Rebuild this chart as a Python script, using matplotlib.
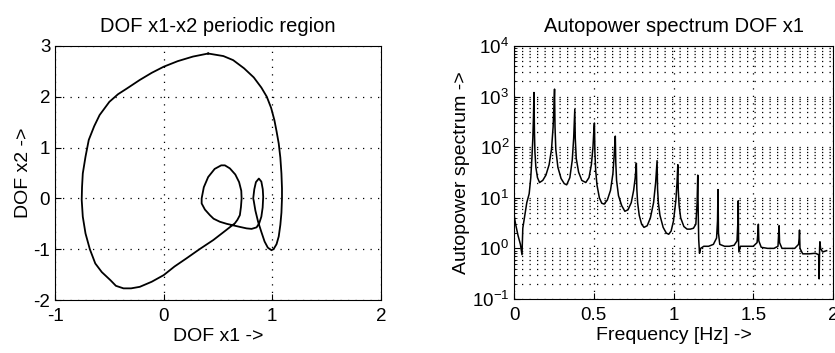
import numpy as np
import matplotlib
matplotlib.use('Agg')
import matplotlib.pyplot as plt
import matplotlib.ticker as mticker

plt.rcParams['font.family'] = ['Liberation Sans', 'DejaVu Sans']
plt.rcParams['mathtext.fontset'] = 'custom'
plt.rcParams['mathtext.rm'] = 'Liberation Sans'
plt.rcParams['mathtext.it'] = 'Liberation Sans:italic'

# phase plot DOF x1 vs DOF x2
dof_x1 = [0.41, 0.55, 0.64, 0.74, 0.83, 0.90, 0.95, 0.99, 1.02, 1.04, 1.06, 1.075,
          1.085, 1.09, 1.09, 1.085, 1.075, 1.06, 1.04, 1.015, 0.994, 0.96, 0.93,
          0.90, 0.87, 0.845, 0.83, 0.825, 0.835, 0.85, 0.877, 0.90, 0.913, 0.917,
          0.912, 0.90, 0.88, 0.856, 0.81, 0.764, 0.70, 0.64, 0.58, 0.518, 0.46,
          0.426, 0.38, 0.35, 0.35, 0.37, 0.41, 0.47, 0.53, 0.564, 0.61, 0.66,
          0.695, 0.715, 0.718, 0.712, 0.702, 0.68, 0.656, 0.56, 0.457, 0.33, 0.21,
          0.10, 0.0, -0.11, -0.22, -0.30, -0.37, -0.44, -0.49, -0.57, -0.63, -0.68,
          -0.72, -0.745, -0.755, -0.752, -0.745, -0.72, -0.69, -0.64, -0.59, -0.50,
          -0.42, -0.34, -0.22, -0.11, 0.0, 0.13, 0.27, 0.41]
dof_x2 = [2.85, 2.80, 2.72, 2.56, 2.38, 2.18, 2.00, 1.78, 1.54, 1.32, 1.08, 0.80,
          0.49, 0.20, 0.0, -0.28, -0.52, -0.75, -0.90, -0.99, -1.02, -0.97, -0.85,
          -0.66, -0.46, -0.24, -0.05, 0.0, 0.18, 0.32, 0.39, 0.33, 0.18, 0.03,
          -0.18, -0.36, -0.49, -0.57, -0.60, -0.59, -0.56, -0.53, -0.50, -0.46,
          -0.40, -0.33, -0.22, -0.10, 0.0, 0.22, 0.42, 0.58, 0.65, 0.65, 0.59, 0.47,
          0.32, 0.15, 0.0, -0.17, -0.33, -0.42, -0.49, -0.65, -0.82, -1.00, -1.18,
          -1.34, -1.51, -1.64, -1.74, -1.77, -1.77, -1.72, -1.61, -1.45, -1.28,
          -1.00, -0.69, -0.36, -0.03, 0.22, 0.49, 0.82, 1.15, 1.42, 1.64, 1.90,
          2.05, 2.16, 2.33, 2.47, 2.59, 2.70, 2.79, 2.85]

# autopower spectrum of DOF x1
freq = [0.0, 0.01, 0.025, 0.04, 0.05, 0.055, 0.065, 0.08, 0.095, 0.105, 0.112, 0.118,
        0.122, 0.125,
        0.128, 0.131, 0.137, 0.147, 0.16, 0.18, 0.2, 0.22, 0.235, 0.245, 0.25, 0.254,
        0.257, 0.262, 0.275, 0.295, 0.315, 0.33, 0.35, 0.365, 0.374, 0.378, 0.381,
        0.384, 0.39, 0.405, 0.425, 0.45, 0.47, 0.485, 0.495, 0.5, 0.504,
        0.507, 0.512, 0.52, 0.535, 0.55, 0.565, 0.585, 0.605, 0.62, 0.628, 0.632, 0.635,
        0.638, 0.643, 0.655, 0.675, 0.695, 0.715, 0.735, 0.75, 0.76, 0.767,
        0.77, 0.775, 0.785, 0.8, 0.815, 0.835, 0.855, 0.875, 0.888, 0.897,
        0.9, 0.905, 0.915, 0.935, 0.955, 0.97, 0.985, 1.0, 1.015, 1.022, 1.027,
        1.03, 1.035, 1.045, 1.065, 1.085, 1.105, 1.125, 1.14, 1.148, 1.152,
        1.155, 1.158, 1.163, 1.17, 1.19, 1.22, 1.25, 1.27, 1.276, 1.279,
        1.282, 1.29, 1.32, 1.35, 1.38, 1.398, 1.403, 1.406, 1.408, 1.41, 1.42,
        1.46, 1.50, 1.524, 1.529, 1.532, 1.535, 1.55, 1.59, 1.63, 1.655, 1.659,
        1.662, 1.665, 1.68, 1.72, 1.76, 1.784, 1.788, 1.790, 1.793, 1.81, 1.85,
        1.89, 1.910, 1.913, 1.916, 1.918, 1.922, 1.935, 1.96]
power = [4.5, 3.0, 1.8, 1.2, 0.75, 2.5, 4.0, 8.0, 12.0, 25.0, 60.0, 150.0,
         400.0, 1200.0,
         200.0, 80.0, 40.0, 25.0, 20.0, 22.0, 28.0, 45.0, 90.0, 250.0, 600.0, 1400.0,
         250.0, 90.0, 40.0, 24.0, 19.0, 18.0, 25.0, 55.0, 150.0, 300.0, 560.0,
         150.0, 60.0, 32.0, 22.0, 20.0, 25.0, 45.0, 100.0, 200.0, 300.0,
         80.0, 35.0, 18.0, 10.0, 7.8, 7.5, 9.0, 14.0, 30.0, 70.0, 120.0, 165.0,
         50.0, 22.0, 11.0, 7.0, 5.4, 5.8, 8.0, 14.0, 25.0, 48.0,
         15.0, 8.0, 4.5, 3.0, 2.6, 2.8, 4.0, 8.0, 20.0, 54.0,
         15.0, 8.0, 4.5, 2.6, 2.0, 1.9, 2.2, 3.5, 9.0, 20.0, 45.0,
         14.0, 7.0, 4.0, 2.7, 2.4, 2.4, 2.5, 3.0, 8.0, 28.0,
         5.0, 1.5, 0.8, 1.0, 1.1, 1.1, 1.2, 1.6, 3.5, 14.5,
         2.0, 1.2, 1.1, 1.1, 1.15, 1.4, 3.0, 8.7, 1.3, 0.85, 1.1,
         1.1, 1.1, 1.3, 2.0, 3.0, 1.4, 1.05, 1.0, 1.0, 1.1, 1.8,
         2.8, 1.3, 1.0, 1.0, 1.0, 1.2, 1.6, 2.3, 1.0, 0.78, 0.78,
         0.8, 0.75, 0.25, 1.0, 1.35, 1.0, 0.85, 0.9]

fig = plt.figure(figsize=(8.35, 3.53), dpi=100)
grid_style = dict(color='black', linestyle=(0, (1, 5)), linewidth=0.9)

# left: phase plot
ax1 = fig.add_axes([0.066, 0.150, 0.390, 0.720])
ax1.plot(dof_x1, dof_x2, color='black', linewidth=1.3)
ax1.set_xlim(-1, 2)
ax1.set_ylim(-2, 3)
ax1.set_xticks([-1, 0, 1, 2])
ax1.set_yticks([-2, -1, 0, 1, 2, 3])
ax1.xaxis.set_major_formatter(mticker.FuncFormatter(lambda v, p: '%g' % v))
ax1.yaxis.set_major_formatter(mticker.FuncFormatter(lambda v, p: '%g' % v))
ax1.grid(True, **grid_style)
ax1.tick_params(direction='in', labelsize=13.5, length=4)
ax1.tick_params(axis='x', pad=6)
ax1.set_title('DOF x1-x2 periodic region', fontsize=14.5, pad=10)
ax1.set_xlabel('DOF x1 ->', fontsize=14, labelpad=2)
ax1.set_ylabel('DOF x2 ->', fontsize=14, labelpad=1)

# right: autopower spectrum
ax2 = fig.add_axes([0.6156, 0.153, 0.382, 0.717])
ax2.semilogy(freq, power, color='black', linewidth=1.1)
ax2.set_xlim(0, 2)
ax2.set_ylim(0.1, 1e4)
ax2.set_xticks([0, 0.5, 1, 1.5, 2])
ax2.xaxis.set_major_formatter(mticker.FuncFormatter(lambda v, p: '%g' % v))
ax2.yaxis.set_major_locator(mticker.LogLocator(base=10, numticks=10))
ax2.yaxis.set_minor_locator(mticker.LogLocator(base=10, subs=np.arange(2, 10), numticks=20))
ax2.yaxis.set_minor_formatter(mticker.NullFormatter())
ax2.grid(True, which='major', **grid_style)
ax2.yaxis.grid(True, which='minor', **grid_style)
ax2.tick_params(direction='in', labelsize=13.5, length=4)
ax2.tick_params(axis='x', pad=6)
ax2.tick_params(which='minor', direction='in', length=2)
ax2.set_title('Autopower spectrum DOF x1', fontsize=14.5, pad=10)
ax2.set_xlabel('Frequency [Hz] ->', fontsize=14, labelpad=2)
ax2.set_ylabel('Autopower spectrum ->', fontsize=14, labelpad=1)

fig.savefig('out.png', dpi=100)
